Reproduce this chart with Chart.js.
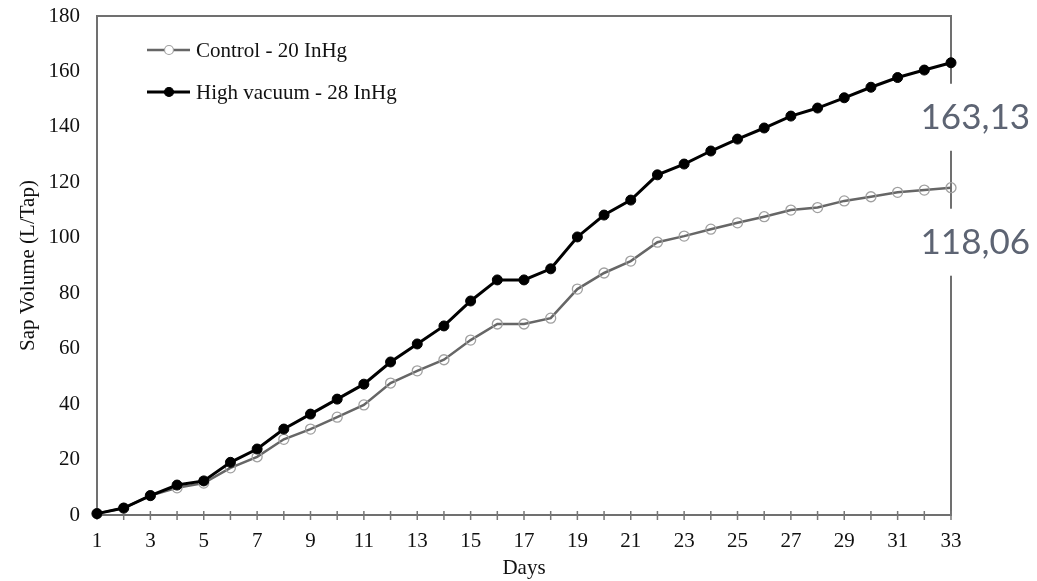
<!DOCTYPE html>
<html>
<head>
<meta charset="utf-8">
<script src="https://cdn.jsdelivr.net/npm/chart.js@4.4.1/dist/chart.umd.min.js"></script>
<style>
  html, body { margin: 0; padding: 0; background: #fff; }
  #wrap { width: 1037px; height: 581px; position: relative; }
</style>
</head>
<body>
<div id="wrap"><canvas id="chart"></canvas></div>
<script>
//days on the x axis
const days = [1, 2, 3, 4, 5, 6, 7, 8, 9, 10, 11, 12, 13, 14, 15, 16, 17, 18, 19, 20, 21, 22, 23, 24, 25, 26, 27, 28, 29, 30, 31, 32, 33];
//cumulative sap volume (L/tap)
const control = [0.5, 2.5, 7, 9.8, 11.5, 17, 21, 27.3, 31, 35.3, 39.7, 47.6, 52, 56, 63.1, 68.9, 68.9, 71, 81.5, 87.3, 91.6, 98.4, 100.6, 103.1, 105.4, 107.6, 110, 110.9, 113.3, 114.8, 116.4, 117.2, 118.06];
const highVacuum = [0.5, 2.5, 7, 10.8, 12.3, 19, 23.8, 31, 36.4, 41.8, 47.2, 55.2, 61.7, 68.2, 77.2, 84.8, 84.8, 88.8, 100.3, 108.2, 113.6, 122.7, 126.6, 131.3, 135.6, 139.6, 143.9, 146.8, 150.5, 154.3, 157.8, 160.5, 163.13];
const seriesNames = ['Control - 20 InHg', 'High vacuum - 28 InHg'];
const yTicks = [0, 20, 40, 60, 80, 100, 120, 140, 160, 180];

const serif = '"Liberation Serif", "Times New Roman", serif';

//frame, tick marks, legend and end labels
const extras = {
  id: 'extras',
  beforeDatasetsDraw(chart) {
    const { ctx, chartArea: a, scales } = chart;
    ctx.save();
    ctx.strokeStyle = '#707070';
    ctx.lineWidth = 2;
    ctx.strokeRect(a.left, a.top, a.right - a.left, a.bottom - a.top);
    ctx.lineWidth = 1.5;
    ctx.strokeStyle = '#777';
    days.forEach((d, i) => {
      const x = scales.x.getPixelForValue(i);
      ctx.beginPath();
      ctx.moveTo(x, a.bottom - 4);
      ctx.lineTo(x, a.bottom + 5);
      ctx.stroke();
    });
    ctx.restore();
  },
  afterDatasetsDraw(chart) {
    const { ctx, chartArea: a } = chart;
    ctx.save();
    // legend inside the plot
    const items = [
      { name: seriesNames[0], ds: chart.data.datasets[1] },
      { name: seriesNames[1], ds: chart.data.datasets[0] },
    ];
    items.forEach((it, i) => {
      const y = a.top + 34 + i * 42;
      const x0 = a.left + 50;
      ctx.strokeStyle = it.ds.borderColor;
      ctx.lineWidth = it.ds.borderWidth;
      ctx.beginPath();
      ctx.moveTo(x0, y);
      ctx.lineTo(x0 + 43, y);
      ctx.stroke();
      ctx.beginPath();
      ctx.arc(x0 + 22, y, 4.5, 0, Math.PI * 2);
      ctx.fillStyle = it.ds.pointBackgroundColor === 'transparent' ? '#fff' : it.ds.pointBackgroundColor;
      ctx.fill();
      ctx.strokeStyle = it.ds.pointBorderColor;
      ctx.lineWidth = 1.2;
      ctx.stroke();
      ctx.fillStyle = '#111';
      ctx.font = '21px ' + serif;
      ctx.textBaseline = 'middle';
      ctx.textAlign = 'left';
      ctx.fillText(it.name, x0 + 49, y + 1);
    });
    // final value labels on the right
    chart.data.datasets.forEach((ds, di) => {
      const meta = chart.getDatasetMeta(di);
      const last = meta.data[meta.data.length - 1];
      const v = ds.data[ds.data.length - 1];
      const yc = last.y + 55;
      ctx.fillStyle = '#fff';
      ctx.fillRect(a.right - 12, yc - 34, 100, 67);
      ctx.fillStyle = '#5d6473';
      ctx.font = '400 35px Lato, "Open Sans", sans-serif';
      ctx.textAlign = 'right';
      ctx.textBaseline = 'middle';
      ctx.fillText(v.toFixed(2).replace('.', ','), a.right + 79, yc);
    });
    ctx.restore();
  }
};

new Chart(document.getElementById('chart'), {
  type: 'line',
  plugins: [extras],
  data: {
    labels: days,
    datasets: [
      {
        label: seriesNames[1],
        data: highVacuum,
        borderColor: '#000',
        borderWidth: 3,
        pointRadius: 5,
        pointBackgroundColor: '#000',
        pointBorderColor: '#000',
        pointBorderWidth: 1,
        tension: 0,
        clip: false,
      },
      {
        label: seriesNames[0],
        data: control,
        borderColor: '#666',
        borderWidth: 2.5,
        pointRadius: 5,
        pointBackgroundColor: 'transparent',
        pointBorderColor: '#a0a0a0',
        pointBorderWidth: 1.3,
        tension: 0,
        clip: false,
      },
    ],
  },
  options: {
    responsive: true,
    maintainAspectRatio: false,
    animation: false,
    layout: { padding: { left: 0, right: 86, top: 16, bottom: 0 } },
    plugins: {
      legend: { display: false },
      tooltip: { enabled: false },
    },
    scales: {
      x: {
        grid: { display: false, drawTicks: false },
        border: { display: false },
        ticks: {
          autoSkip: false,
          maxRotation: 0,
          padding: 14,
          color: '#111',
          font: { family: serif, size: 21 },
          callback: (val, i) => (i % 2 === 0 ? days[i] : ''),
        },
        title: {
          display: true,
          text: 'Days',
          color: '#111',
          font: { family: serif, size: 21 },
          padding: { top: 2, bottom: 0 },
        },
        afterFit: (scale) => { scale.height = 66; },
      },
      y: {
        min: 0,
        max: 180,
        grid: { display: false, drawTicks: false },
        border: { display: false },
        afterBuildTicks: (scale) => { scale.ticks = yTicks.map(v => ({ value: v })); },
        ticks: {
          padding: 17,
          color: '#111',
          font: { family: serif, size: 21 },
        },
        title: {
          display: true,
          text: 'Sap Volume (L/Tap)',
          color: '#111',
          font: { family: serif, size: 21 },
          padding: { top: 16, bottom: 0 },
        },
        afterFit: (scale) => {
          scale.width = 97;
          scale.paddingTop = 0;
          scale.paddingBottom = 0;
        },
      },
    },
  },
});
</script>
</body>
</html>
